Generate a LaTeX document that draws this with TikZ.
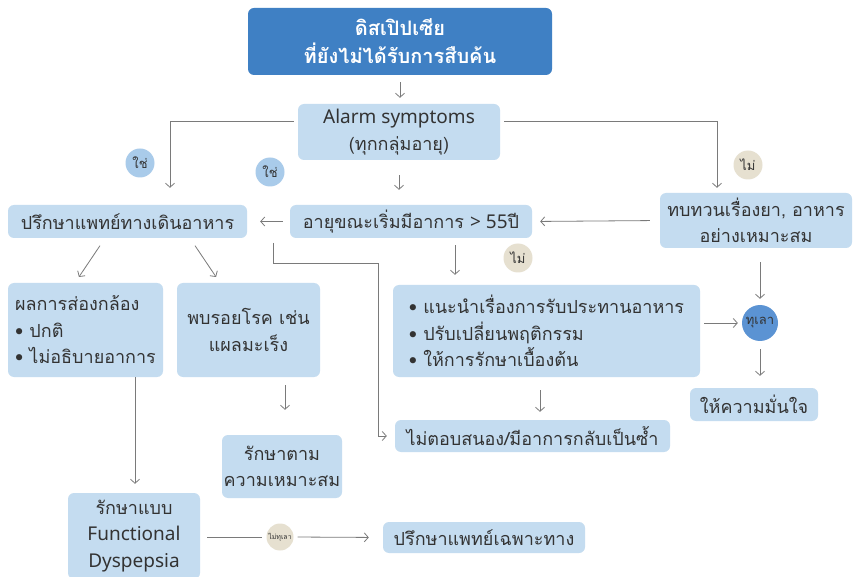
\documentclass[tikz,border=0pt]{standalone}
\usepackage{fontspec}
\setmainfont[Script=Thai]{Loma}
\newfontfamily\lat{Noto Sans}
\usetikzlibrary{arrows.meta}
\definecolor{boxfill}{HTML}{C4DCF0}
\definecolor{headfill}{HTML}{3F80C4}
\definecolor{yesfill}{HTML}{A9CBEA}
\definecolor{nofill}{HTML}{E6E0D0}
\definecolor{relieffill}{HTML}{5B93D3}
\definecolor{txt}{HTML}{333333}
\definecolor{wire}{HTML}{7A7A7A}
\newcommand{\latin}[1]{{\lat\fontsize{19}{26}\selectfont #1}}
\tikzset{
  x=1pt, y=-1pt,
  every node/.style={text=txt},
  box/.style={fill=boxfill, rounded corners=6pt, inner sep=0pt, align=center,
              font=\fontsize{18}{26.5}\selectfont},
  headbox/.style={box, fill=headfill, text=white, font=\bfseries\fontsize{20}{28}\selectfont},
  tag/.style={circle, inner sep=0pt, minimum size=29pt, font=\fontsize{13}{13}\selectfont},
  yestag/.style={tag, fill=yesfill},
  notag/.style={tag, fill=nofill},
  conn/.style={draw=wire, line width=0.8pt, -{Straight Barb[length=4pt,width=9pt]}},
  wireonly/.style={draw=wire, line width=0.8pt},
}
\begin{document}
\begin{tikzpicture}
\useasboundingbox[fill=white] (0,0) rectangle (857,577);

% boxes
\node[headbox, minimum width=304pt, minimum height=67pt] (top) at (400,41.5)
  {ดิสเปิปเซีย\\ที่ยังไม่ได้รับการสืบค้น};
\node[box, minimum width=202pt, minimum height=56pt] (alarm) at (399,132)
  {\latin{Alarm symptoms}\\(ทุกกลุ่มอายุ)};
\node[box, minimum width=192pt, minimum height=55pt] (review) at (756,220.5)
  {ทบทวนเรื่องยา, อาหาร\\อย่างเหมาะสม};
\node[box, minimum width=239pt, minimum height=33pt] (consult) at (127.5,221.5)
  {ปรึกษาแพทย์ทางเดินอาหาร};
\node[box, minimum width=242pt, minimum height=33pt] (age) at (411,221.5)
  {อายุขณะเริ่มมีอาการ \latin{> 55}ปี};
\node[box, minimum width=307pt, minimum height=92pt, align=left] (advice) at (546.5,331)
  {• แนะนำเรื่องการรับประทานอาหาร\\• ปรับเปลี่ยนพฤติกรรม\\• ให้การรักษาเบื้องต้น};
\node[box, minimum width=155pt, minimum height=94pt, align=left] (scope) at (85.5,330)
  {ผลการส่องกล้อง\\• ปกติ\\• ไม่อธิบายอาการ};
\node[box, minimum width=143pt, minimum height=94pt] (lesion) at (248.5,330)
  {พบรอยโรค เช่น\\แผลมะเร็ง};
\node[box, minimum width=275pt, minimum height=32pt] (relapse) at (532.5,436)
  {ไม่ตอบสนอง/มีอาการกลับเป็นซ้ำ};
\node[box, minimum width=128pt, minimum height=33pt] (reassure) at (754,404.5)
  {ให้ความมั่นใจ};
\node[box, minimum width=120pt, minimum height=63pt] (treatfit) at (282,466.5)
  {รักษาตาม\\ความเหมาะสม};
\node[box, minimum width=132pt, minimum height=86pt] (fd) at (134,536)
  {รักษาแบบ\\\latin{Functional}\\\latin{Dyspepsia}};
\node[box, minimum width=202pt, minimum height=31pt] (special) at (484,537.5)
  {ปรึกษาแพทย์เฉพาะทาง};

% decision tags
\node[yestag] (yes1) at (140,163) {ใช่};
\node[yestag] (yes2) at (270,172) {ใช่};
\node[notag] (no1) at (748,165) {ไม่};
\node[notag] (no2) at (518,258) {ไม่};
\node[tag, fill=relieffill, minimum size=36pt, font=\fontsize{13}{13}\selectfont] (relief) at (760,323) {ทุเลา};
\node[notag, minimum size=27pt, font=\fontsize{7}{7}\selectfont] (norelief) at (280,537) {ไม่ทุเลา};

% connectors
\draw[conn, shorten <=7pt, shorten >=6pt] (top.south) -- (top.south |- alarm.north);
\draw[conn, shorten <=4pt, shorten >=5pt] ([yshift=11pt]alarm.east) -| ([xshift=-39pt]review.north);
\draw[conn, shorten <=4pt, shorten >=17pt] ([yshift=11pt]alarm.west) -| ([xshift=42.5pt]consult.north);
\draw[conn, shorten <=15pt, shorten >=15pt] (alarm.south) -- (alarm.south |- age.north);
\draw[conn, shorten <=10pt, shorten >=8pt] (review.west) -- (age.east);
\draw[conn, shorten <=7pt, shorten >=13pt] (age.west) -- (consult.east);

\coordinate (loopstart) at (273,243);
\coordinate (loopbend) at (273,263);
\draw[conn, shorten >=8pt] (loopstart) -- (loopbend) -| (378,436) -- (relapse.west);

\draw[conn, shorten <=7pt, shorten >=10pt] ([xshift=44pt]age.south) -- ([xshift=-91.5pt]advice.north);
\draw[conn, shorten <=9pt, shorten >=7pt] ([xshift=-22.5pt]consult.south) -- ([xshift=-10.5pt]scope.north);
\draw[conn, shorten <=9pt, shorten >=7pt] ([xshift=62.5pt]consult.south) -- ([xshift=-28.5pt]lesion.north);
\draw[conn, shorten <=8pt, shorten >=25pt] ([xshift=36.5pt]lesion.south) -- ([xshift=3pt]treatfit.north);
\draw[conn, shorten >=9pt] ([xshift=49.5pt]scope.south) -- ([xshift=1pt]fd.north);
\draw[conn, shorten <=4pt, shorten >=4pt] (advice.east |- relief.west) -- (relief.west);
\draw[conn, shorten <=14pt, shorten >=6pt] ([xshift=4pt]review.south) -- (relief.north);
\draw[conn, shorten <=8pt, shorten >=12pt] (relief.south) -- (relief.south |- reassure.north);
\draw[conn, shorten <=13pt, shorten >=8pt] ([xshift=-6.5pt]advice.south) -- ([xshift=7.5pt]relapse.north);
\draw[wireonly, shorten <=7pt, shorten >=4pt] (fd.east |- norelief) -- (norelief.west);
\draw[conn, shorten <=4pt, shorten >=14pt] (norelief.east) -- (special.west);
\end{tikzpicture}
\end{document}
